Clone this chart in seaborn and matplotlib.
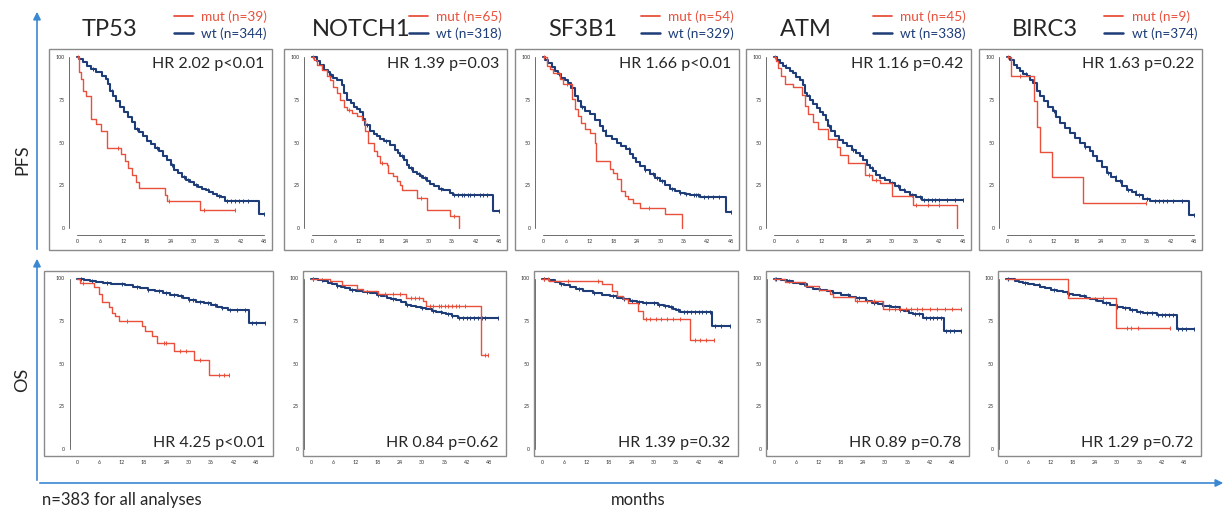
import numpy as np
import pandas as pd
import seaborn as sns
import matplotlib.pyplot as plt
from matplotlib.patches import Rectangle, FancyArrowPatch

# ---- data ----
genes = ['TP53', 'NOTCH1', 'SF3B1', 'ATM', 'BIRC3']
n_mut = [39, 65, 54, 45, 9]
n_wt = [344, 318, 329, 338, 374]
hr_pfs = ['HR 2.02 p<0.01', 'HR 1.39 p=0.03', 'HR 1.66 p<0.01', 'HR 1.16 p=0.42', 'HR 1.63 p=0.22']
hr_os = ['HR 4.25 p<0.01', 'HR 0.84 p=0.62', 'HR 1.39 p=0.32', 'HR 0.89 p=0.78', 'HR 1.29 p=0.72']
x_ticks = [0, 6, 12, 18, 24, 30, 36, 42, 48]
y_ticks = [0, 25, 50, 75, 100]

# KM steps: (months, % event free); last pair = end of follow-up
tp53_pfs_wt = [(0, 100), (0.5, 99), (1.5, 97), (2.5, 95), (3.5, 93), (5, 91), (6.5, 89), (7.5, 87), (8, 84),
               (8.5, 80), (9.2, 77), (10, 74), (11, 71), (12, 68), (13, 65), (14, 62), (15, 58), (16, 56),
               (17, 54), (18, 51), (19, 49), (20, 47), (21, 45), (22, 42), (23, 40), (24, 37), (25, 34),
               (26, 32), (27, 30), (28, 28), (29, 27), (30, 25), (31, 24), (32, 23), (33, 22), (34, 21),
               (35, 20), (36, 19), (37, 18), (38, 16), (46.7, 8), (48, 8)]
tp53_pfs_wt_cens = [4, 9, 15.5, 20.5, 24.5, 27.5, 28.5, 30.5, 33.5, 36.5, 38.5, 39.5, 40.5, 41.5, 42.5, 44, 48]
tp53_pfs_mut = [(0, 100), (0.5, 91), (1.1, 87), (1.6, 80), (2.4, 77), (3.5, 64), (5.0, 61), (6.2, 57),
                (7.6, 47), (11.3, 43), (12.3, 39), (13.2, 35), (14.2, 31), (15.2, 27), (16.0, 23.5),
                (22.7, 19.5), (23.2, 16), (31.5, 10.8), (40.5, 10.8)]
tp53_pfs_mut_cens = [0.3, 10.5, 23.5, 32.6, 40.5]

tp53_os_wt = [(0, 100), (1, 99.5), (2, 99), (3.5, 98.5), (5, 98), (7, 97.5), (9, 97), (11, 96.5), (13, 96),
              (15, 95), (17, 94.5), (19, 93.5), (21, 92.5), (23, 91.5), (25, 90.5), (27, 89.5), (28.5, 88.5),
              (30, 87.5), (32, 86.5), (34, 85.5), (36, 84.5), (37.5, 83.5), (39, 82.5), (40.5, 81.5),
              (46, 74), (50.5, 74)]
tp53_os_wt_cens = [1, 4, 8, 12, 16, 19, 22, 24, 26, 28, 30, 31, 33, 35, 37, 39, 41, 43, 45, 47, 48, 50.5]
tp53_os_mut = [(0, 100), (0.7, 97.4), (4.5, 94.8), (5.8, 91), (6.7, 86), (8.5, 83), (9.4, 80), (10.3, 78),
               (11.2, 75), (17.4, 72), (18.3, 69.4), (20.1, 66), (21.4, 62), (25.9, 57.7), (31.3, 52),
               (35.3, 43.5), (40.7, 43.5)]
tp53_os_mut_cens = [1.5, 13.4, 23.2, 24, 27.7, 29.3, 32.9, 38, 39.3, 40.7]

notch1_pfs_wt = [(0, 100), (1.3, 97.5), (2, 95.5), (3, 92.6), (4, 91), (4.7, 89.7), (5.5, 88), (6.4, 86.7),
                 (7.7, 83.8), (8.1, 79), (9, 75), (10, 73), (10.7, 71), (11.5, 69.5), (12.4, 68), (13, 64),
                 (13.7, 60.4), (14.9, 56.5), (16, 55), (16.7, 53.6), (17.5, 52), (18.4, 50.7), (20, 48.7),
                 (21.4, 45.8), (22, 44), (22.6, 41.9), (23.5, 39.5), (24.3, 37), (25, 35), (26, 33),
                 (27, 31.5), (27.8, 30.2), (28.6, 29), (29.5, 27.3), (30.3, 26), (31.2, 24.4), (32.5, 23),
                 (33.7, 22), (35.4, 20.5), (36.3, 19.5), (46.5, 9.7), (48, 9.7)]
notch1_pfs_wt_cens = [5, 14, 19, 23, 25.5, 27.5, 28, 29, 33, 36.5, 37.5, 38.5, 39, 40, 40.5, 41.5, 43, 44, 45, 48]
notch1_pfs_mut = [(0, 100), (0.4, 98.4), (1.3, 95.5), (2.6, 92.6), (3.8, 88.7), (4.7, 86.7), (5.4, 82.5),
                  (6.4, 79), (7.3, 75), (8.1, 71), (9, 69.2), (10.2, 67.3), (11.5, 65.3), (12.8, 63.4),
                  (13.7, 56.5), (14.5, 49.7), (15.8, 44.8), (16.7, 41.9), (17.5, 38), (19.2, 37), (19.6, 32.2),
                  (20.9, 30.2), (21.8, 27.3), (22.6, 25.3), (23, 22.4), (26.9, 17.5), (29.5, 10.7),
                  (35.4, 7.2), (37.7, 0)]
notch1_pfs_mut_cens = [0.2, 9.5, 18, 28, 36.5]

notch1_os_wt = [(0, 100), (1, 99.5), (2, 99), (3.3, 98.4), (4.5, 97.5), (5.7, 96.5), (6.9, 95.5), (8, 94.8),
                (9.2, 94.2), (10.5, 93.5), (12, 92.8), (14, 92), (16, 91.3), (17.7, 90.6), (19, 89.6),
                (20.4, 88.6), (21.7, 88), (23, 87.3), (24.3, 86), (25.7, 84.7), (27, 84), (28.4, 83.4),
                (29.7, 82.8), (31.1, 82.2), (32.5, 81.2), (33.8, 80.2), (35.2, 79.5), (36.5, 78.9),
                (38, 77.9), (39.6, 76.9), (50.4, 76.9)]
notch1_os_wt_cens = [0.5, 3, 7, 11, 15, 18, 22, 26, 30, 33, 35, 37, 38, 40, 41, 42, 43, 44, 45, 46, 47, 50.4]
notch1_os_mut = [(0, 100), (5.1, 98.4), (8.3, 95.9), (12.3, 94), (14.1, 92.6), (18.1, 91.2), (25.7, 88.6),
                 (30.2, 86.7), (31.1, 83.8), (45.9, 55.4), (47.7, 55.4)]
notch1_os_mut_cens = [0.5, 20, 22, 24, 27, 28, 29, 32, 33, 34.5, 35, 36, 37, 38, 39, 40, 41.5, 47, 47.7]

sf3b1_pfs_wt = [(0, 100), (0.5, 98.5), (1.3, 96.7), (2.2, 94), (3, 91.8), (3.8, 90), (4.7, 88), (5.5, 86.5),
                (6.4, 85), (7.2, 82), (8.1, 77), (9, 74), (9.8, 71), (10.8, 68.5), (11.9, 66.5), (13.2, 63),
                (14.5, 59.6), (15.3, 56.5), (16.2, 53.8), (17.5, 52), (18.8, 49.9), (20, 48), (21.3, 46),
                (22.1, 43.5), (23, 41), (23.8, 38.5), (24.7, 36.3), (26, 33.8), (27.3, 31.4), (28.5, 29.5),
                (29.8, 27.5), (31.1, 25), (32.4, 22.6), (33.7, 21.6), (34.9, 20.7), (36.2, 20), (37.5, 19.1),
                (40, 18.3), (46.7, 9.5), (48, 9.5)]
sf3b1_pfs_wt_cens = [4, 10, 16, 22, 26, 28, 29, 30.5, 33, 35, 36.5, 38.5, 39, 39.5, 41, 42, 43.5, 45, 48]
sf3b1_pfs_mut = [(0, 100), (0.9, 94.7), (1.7, 92.8), (2.6, 90.8), (4.3, 87), (5.1, 84), (7.5, 75.2),
                 (8.1, 69.4), (9, 65.5), (9.8, 61.6), (10.7, 57.7), (11.9, 55.8), (13.2, 49.9), (13.6, 39.2),
                 (17, 34.3), (17.9, 32.4), (18.8, 28.5), (20, 21.6), (20.9, 18.7), (21.7, 16.8), (23, 14.8),
                 (24.7, 11.9), (31.1, 8), (35.6, 0)]
sf3b1_pfs_mut_cens = [0.3, 6, 27]

sf3b1_os_wt = [(0, 100), (1, 99.5), (2, 99), (3.5, 98), (4.75, 97), (6, 96), (7.5, 95), (9.2, 93.6),
               (11, 92.8), (13.7, 91.6), (16, 90.6), (18.2, 89.7), (20, 88.7), (21.8, 87.7), (23.5, 87),
               (25.4, 86.2), (27, 85.8), (29, 85.4), (31, 84.5), (32.6, 83.8), (34, 83), (35.2, 82.3),
               (36, 81.3), (37, 80.3), (45.6, 72), (50.5, 72)]
sf3b1_os_wt_cens = [0.5, 5, 10, 14, 19, 22, 24, 26, 28, 30, 31.5, 33, 34.5, 36.5, 38, 39, 40, 41, 42, 43, 44,
                    45, 46.5, 48, 50.5]
sf3b1_os_mut = [(0, 100), (2, 98.4), (16, 96.5), (18.7, 92.6), (20, 89.7), (21.8, 87.7), (23.1, 85.4),
                (25.8, 80.9), (27, 76.4), (39.7, 63.7), (46, 63.7)]
sf3b1_os_mut_cens = [0.5, 1.5, 7, 15, 27.8, 29, 30.5, 32, 33.5, 35, 37, 41, 42.5, 44, 46]

atm_pfs_wt = [(0, 100), (0.7, 98.5), (1.4, 96.5), (2.2, 95), (3.1, 93.6), (4, 92), (4.8, 90.6), (5.6, 88.5),
              (6.5, 86.7), (7.4, 83.8), (7.8, 79), (8.5, 77), (9.1, 75), (10, 72.5), (10.8, 70.2), (11.6, 68),
              (12.5, 66.3), (13.2, 63), (13.8, 59.5), (14.6, 56.5), (15.5, 53.6), (16.5, 51.5), (17.6, 49.7),
              (18.6, 47.7), (19.7, 45.8), (20.7, 44), (21.8, 41.9), (22.6, 39.5), (23.5, 37), (24.3, 35),
              (25.2, 33.1), (26, 31), (27, 29.2), (28.2, 27.8), (29.5, 26.3), (30.8, 24.3), (32, 22.4),
              (33.3, 21), (34.6, 19.5), (36, 18), (37.6, 16.6), (48, 16.6)]
atm_pfs_wt_cens = [3, 9, 14, 20, 25, 28, 30, 31.5, 33, 35, 37, 38, 39, 40, 41, 42, 44, 46, 48]
atm_pfs_mut = [(0, 100), (0.6, 97.8), (1, 93.3), (1.9, 88.9), (2.7, 84.4), (4.8, 82.2), (7, 77.8),
               (7.8, 71.1), (8.7, 66.7), (9.9, 62.2), (11.2, 57.8), (13.8, 52), (15.9, 47.6), (16.7, 42.9),
               (18.9, 38), (23.1, 31.2), (24.8, 28.3), (27, 26.3), (29.9, 18.5), (35.3, 13.6), (46.6, 0)]
atm_pfs_mut_cens = [0.3, 24, 26, 36, 39, 42]

atm_os_wt = [(0, 100), (1, 99.5), (2, 99), (3.5, 98.3), (5.2, 97.5), (7, 96.5), (9, 95.2), (10.6, 94),
             (12.5, 93.2), (14.2, 92.4), (16, 91.6), (18, 90.4), (20.4, 89.2), (22, 88.4), (24.9, 86.7),
             (26.5, 85.8), (28, 84.8), (29.4, 83.8), (31.5, 83), (33.9, 81.8), (35, 80.8), (36.3, 79.9),
             (37.5, 78.9), (40.2, 76.9), (45.8, 69.1), (50.5, 69.1)]
atm_os_wt_cens = [0.5, 4, 8, 12, 16, 20, 23, 25, 27, 29, 31, 32.5, 34, 36, 38, 39, 41, 42, 43, 44, 45, 46.5,
                  47.5, 48.5, 50.5]
atm_os_mut = [(0, 100), (3, 97.8), (8.3, 95.6), (12, 93.3), (15.2, 91.1), (16, 88.9), (21.8, 86.7),
              (29.4, 82.4), (50.5, 82.4)]
atm_os_mut_cens = [0.3, 22.5, 25, 27, 31, 32.5, 34, 35.5, 37, 38.5, 40, 42, 44, 46, 48, 50.5]

birc3_pfs_wt = [(0, 100), (0.8, 98), (1.7, 95.5), (2.5, 93.5), (3.4, 91.6), (4.2, 90), (5.1, 88.7), (6, 86.7),
                (6.8, 84.8), (7.7, 80), (8.5, 77), (9.4, 74), (10.6, 71), (11.9, 68.2), (12.7, 65),
                (13.6, 61.4), (14.9, 58.5), (16.2, 55.6), (17.5, 52.5), (18.8, 49.7), (20, 47.2), (21.3, 44.8),
                (22.1, 42), (23, 39), (24.3, 35.5), (25.6, 32.2), (26.8, 29.8), (28.1, 27.3), (29.4, 24.8),
                (30.7, 22.4), (32, 21), (33.2, 19.5), (35, 17.2), (36.7, 16), (46.6, 7.8), (48, 7.8)]
birc3_pfs_wt_cens = [1, 5, 12, 20, 26, 28, 29, 31, 33, 34, 36, 38, 39, 40, 41, 42.5, 45, 48]
birc3_pfs_mut = [(0, 100), (0.9, 88.9), (6.9, 74.1), (7.7, 59.3), (8.5, 44.4), (11.6, 29.6), (19.4, 14.8),
                 (35.8, 14.8)]
birc3_pfs_mut_cens = [0.2, 3.3, 35.8]

birc3_os_wt = [(0, 100), (1, 99.5), (2.5, 98.5), (3.6, 98), (4.7, 97.5), (6, 96.8), (7.5, 96), (9.2, 95.1),
               (10.5, 94.5), (12, 93.5), (13.7, 92.6), (15.5, 91.8), (16.8, 91.2), (18.2, 90.6), (20, 89.5),
               (21.5, 88.7), (22.6, 88.1), (24.5, 87), (26.2, 85.8), (28, 84.5), (29.8, 83.4), (31.5, 82.5),
               (33.4, 81.5), (35.2, 80.5), (37, 79.5), (40.6, 78.4), (46.1, 70.6), (50.8, 70.6)]
birc3_os_wt_cens = [0.5, 5, 9, 13, 17, 21, 24, 27, 30, 32, 34, 36, 38, 39.5, 41, 42, 43, 44, 45, 46.5, 47.5,
                    48.5, 50.8]
birc3_os_mut = [(0, 100), (16.8, 88.7), (29.6, 71.2), (44.1, 71.2)]
birc3_os_mut_cens = [26.2, 32.5, 33.8, 35.6, 44.1]

pfs_curves = [
    (tp53_pfs_wt, tp53_pfs_wt_cens, tp53_pfs_mut, tp53_pfs_mut_cens),
    (notch1_pfs_wt, notch1_pfs_wt_cens, notch1_pfs_mut, notch1_pfs_mut_cens),
    (sf3b1_pfs_wt, sf3b1_pfs_wt_cens, sf3b1_pfs_mut, sf3b1_pfs_mut_cens),
    (atm_pfs_wt, atm_pfs_wt_cens, atm_pfs_mut, atm_pfs_mut_cens),
    (birc3_pfs_wt, birc3_pfs_wt_cens, birc3_pfs_mut, birc3_pfs_mut_cens),
]
os_curves = [
    (tp53_os_wt, tp53_os_wt_cens, tp53_os_mut, tp53_os_mut_cens),
    (notch1_os_wt, notch1_os_wt_cens, notch1_os_mut, notch1_os_mut_cens),
    (sf3b1_os_wt, sf3b1_os_wt_cens, sf3b1_os_mut, sf3b1_os_mut_cens),
    (atm_os_wt, atm_os_wt_cens, atm_os_mut, atm_os_mut_cens),
    (birc3_os_wt, birc3_os_wt_cens, birc3_os_mut, birc3_os_mut_cens),
]

# ---- layout (pixels) ----
W, H = 1223, 513
RED = '#e8503c'
NAVY = '#1d3c78'
ARROW = '#3b88d2'
pfs_x0 = [77, 312, 543, 774, 1007]
pfs_x48 = [264, 499, 731, 963, 1194]
os_x0 = [77, 311, 542, 774, 1006]
os_x48 = [256, 489, 721, 952, 1184]
title_dx = [5, 0, 5, 6, 5]

sns.set_style('white')
plt.rcParams['font.family'] = ['Lato', 'DejaVu Sans']

fig = plt.figure(figsize=(W / 100, H / 100), dpi=100)


def fx(px):
    return px / W


def fy(py):
    return 1 - py / H


def step_curve(ax, pts, cens, color, lw):
    df = pd.DataFrame(pts, columns=['month', 'surv'])
    sns.lineplot(data=df, x='month', y='surv', ax=ax, color=color, lw=lw,
                 drawstyle='steps-post', estimator=None, sort=False)
    idx = np.searchsorted(df['month'].values, cens, side='right') - 1
    ax.plot(cens, df['surv'].values[idx], ls='none', marker='|', ms=3.2, mew=0.7, color=color)


def make_panel(x0, x48, y100, y0, xmax, curves, frame):
    ppm = (x48 - x0) / 48
    ppp = (y0 - y100) / 100
    left = x0 - 2 * ppm
    width = (xmax + 2) * ppm
    top = y100 - 4 * ppp
    height = 108 * ppp
    ax = fig.add_axes([fx(left), fy(top + height), width / W, height / H])
    wt, wt_c, mut, mut_c = curves
    step_curve(ax, wt, wt_c, NAVY, 1.5)
    step_curve(ax, mut, mut_c, RED, 1.0)
    ax.set_xlim(-2, xmax)
    ax.set_ylim(-4, 104)
    ax.set_xticks(x_ticks)
    ax.set_yticks(y_ticks)
    ax.set_xlabel('')
    ax.set_ylabel('')
    ax.set_facecolor('none')
    ax.tick_params(labelsize=3.8, length=2, width=0.5, pad=1.2, colors='#333333')
    for s in ['left', 'bottom']:
        ax.spines[s].set_linewidth(0.5)
        ax.spines[s].set_color('#333333')
    sns.despine(ax=ax, trim=True)
    fl, ft, fr, fb = frame
    fig.add_artist(Rectangle((fx(fl), fy(fb)), (fr - fl) / W, (fb - ft) / H, transform=fig.transFigure,
                             fill=False, ec='#8a8a8a', lw=1.0))
    return ax


for i, g in enumerate(genes):
    ax = make_panel(pfs_x0[i], pfs_x48[i], 57, 228, 50, pfs_curves[i],
                    (pfs_x0[i] - 28, 49, pfs_x48[i] + 8, 250))
    ax.text(48, 96, hr_pfs[i], ha='right', va='center', fontsize=11.5)
    h_mut, = ax.plot([], [], color=RED, lw=1.3)
    h_wt, = ax.plot([], [], color=NAVY, lw=1.8)
    ax.legend([h_mut, h_wt], [f'mut (n={n_mut[i]})', f'wt (n={n_wt[i]})'],
              loc='upper right', bbox_to_anchor=(fx(pfs_x48[i] + 3), fy(10)), bbox_transform=fig.transFigure,
              frameon=False, fontsize=9.8, handlelength=1.4, handletextpad=0.6, labelspacing=0.35,
              borderpad=0, borderaxespad=0, labelcolor=[RED, NAVY])
    fig.text(fx(pfs_x0[i] + title_dx[i]), fy(36), g, fontsize=17, ha='left', va='baseline')

    os_frame_left = os_x0[i] - 33 if i == 0 else os_x0[i] - 8
    ax = make_panel(os_x0[i], os_x48[i], 278.5, 449, 53, os_curves[i],
                    (os_frame_left, 271, os_x48[i] + 17, 456))
    ax.text(50.6, 3.5, hr_os[i], ha='right', va='center', fontsize=11.5)

# axis arrows and labels
for a, b in [((37, 252), (37, 9)), ((37, 483), (37, 256)), ((37, 483), (1226, 483))]:
    fig.add_artist(FancyArrowPatch((fx(a[0]), fy(a[1])), (fx(b[0]), fy(b[1])), transform=fig.transFigure,
                                   arrowstyle='-|>', mutation_scale=11, color=ARROW, lw=1.2))
fig.text(fx(22), fy(160), 'PFS', rotation=90, fontsize=13, ha='center', va='center')
fig.text(fx(22), fy(380), 'OS', rotation=90, fontsize=13, ha='center', va='center')
fig.text(fx(42), fy(500), 'n=383 for all analyses', fontsize=12, ha='left', va='center')
fig.text(fx(638), fy(500), 'months', fontsize=12, ha='center', va='center')

fig.savefig('out.png', dpi=100)
